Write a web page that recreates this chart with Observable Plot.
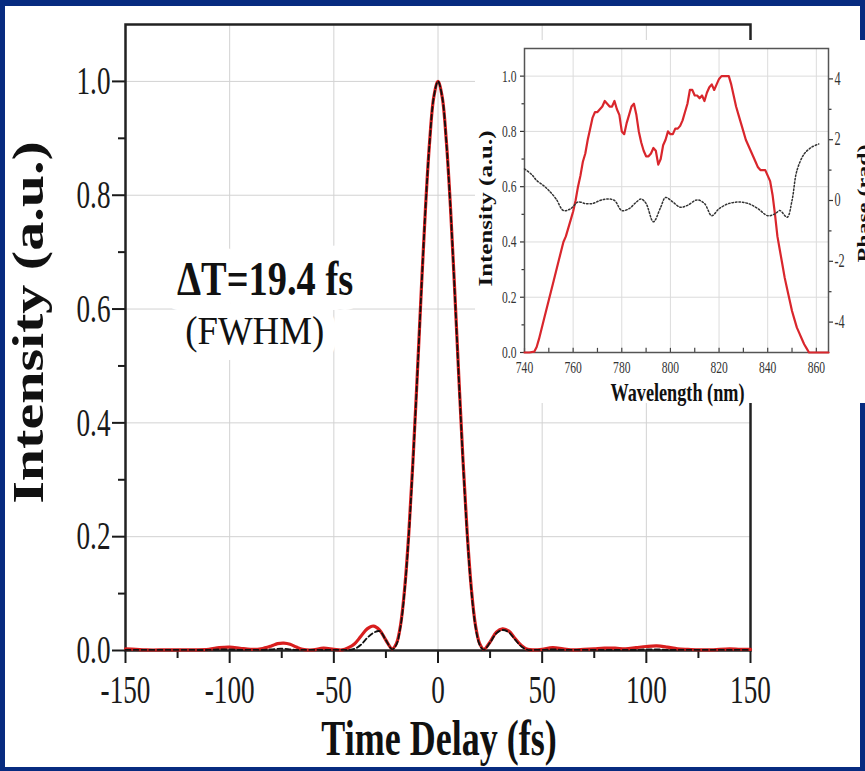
<!DOCTYPE html>
<html><head><meta charset="utf-8">
<script src="https://cdn.jsdelivr.net/npm/d3@7"></script>
<script src="https://cdn.jsdelivr.net/npm/@observablehq/plot@0.6"></script>
<style>
html,body{margin:0;padding:0;background:#072b80;}
#stage{position:relative;width:865px;height:771px;overflow:hidden;background:#072b80;}
#panel{position:absolute;left:5px;top:6px;width:855px;height:761px;background:#fff;}
#main{position:absolute;left:0;top:0;width:865px;height:771px;}
#inset{position:absolute;left:475px;top:40px;width:390px;height:363px;background:#fff;}
#inset svg{position:absolute;left:0;top:0;}
.edge{position:absolute;background:#072b80;}
</style></head><body>
<div id="stage">
  <div id="panel"></div>
  <div id="main"></div>
  <div class="edge" style="left:0;top:0;width:865px;height:6px"></div>
  <div class="edge" style="left:0;top:0;width:5px;height:771px"></div>
  <div class="edge" style="left:860px;top:0;width:5px;height:771px"></div>
  <div class="edge" style="left:0;top:767px;width:865px;height:4px"></div>
  <div id="inset"></div>
</div>
<script>
// ---------- main chart data ----------
const mainTime = [-150,-145,-140,-130,-120,-110,-105,-100,-95,-90,-85,-80,-77,-74,-71,-68,-65,-60,-55,-50,-46,-43,-40,-37,-34,-31,-28,-25,-22,-20,-18,-16,-14,-12,-10,-8,-6,-4,-2,0,2,4,6,8,10,12,14,16,18,20,22,25,28,31,34,37,40,43,46,50,55,60,65,70,75,80,85,90,95,100,105,110,115,120,130,140,145,150];
const mainMeasured = [0.003,0.002,0.001,0.001,0.001,0.002,0.005,0.006,0.004,0.002,0.003,0.008,0.012,0.013,0.011,0.006,0.002,0.001,0.004,0.002,0.001,0.005,0.012,0.025,0.038,0.043,0.036,0.018,0.003,0.012,0.044,0.109,0.207,0.334,0.48,0.634,0.778,0.895,0.973,1.0,0.973,0.895,0.778,0.634,0.48,0.334,0.207,0.109,0.044,0.012,0.002,0.015,0.032,0.038,0.034,0.021,0.009,0.002,0.001,0.002,0.005,0.003,0.001,0.002,0.003,0.004,0.004,0.003,0.005,0.007,0.008,0.006,0.003,0.002,0.001,0.003,0.002,0.002];
const mainTransformLimited = [0.001,0.001,0.001,0.001,0.001,0.001,0.002,0.002,0.001,0.001,0.001,0.002,0.003,0.003,0.002,0.001,0.001,0.001,0.001,0.001,0.001,0.001,0.003,0.01,0.022,0.031,0.034,0.018,0.002,0.01,0.042,0.106,0.204,0.332,0.478,0.632,0.777,0.894,0.973,1.0,0.973,0.894,0.777,0.632,0.478,0.332,0.204,0.106,0.042,0.01,0.001,0.014,0.03,0.036,0.032,0.019,0.007,0.001,0.001,0.001,0.002,0.001,0.001,0.001,0.001,0.001,0.001,0.001,0.001,0.002,0.002,0.001,0.001,0.001,0.001,0.001,0.001,0.001];
const mainXTicks = [-150,-100,-50,0,50,100,150];
const mainXMinor = [-125,-75,-25,25,75,125];
const mainXGrid = [-100,-50,0,50,100];
const mainYTicks = [0,0.2,0.4,0.6,0.8,1.0];
const mainYMinor = [0.1,0.3,0.5,0.7,0.9];
const mainYGrid = [0.2,0.4,0.6,0.8,1.0];
const annotText = ["ΔT=19.4 fs","(FWHM)"];
const annotX = [-83,-88];
const annotY = [0.651,0.561];

// ---------- inset data ----------
const specWl = [740,742,744,745,746,748,750,752,754,756,757,758,759,760,761,762,763,764,765,766,767,768,769,770,771,772,773,774,775,776,777,778,779,780,781,782,783,784,785,786,787,788,789,790,791,792,793,794,795,796,797,798,799,800,801,802,803,804,805,806,807,808,809,810,811,812,813,814,815,816,817,818,819,820,821,822,823,824,825,826,827,828,829,830,831,832,833,834,835,836,837,838,839,840,841,842,843,844,845,846,847,848,849,850,851,852,853,854,855,856,857,860,865];
const specInt = [0,0,0.003,0.02,0.05,0.12,0.19,0.26,0.33,0.4,0.42,0.45,0.48,0.51,0.55,0.6,0.64,0.69,0.72,0.77,0.81,0.85,0.87,0.87,0.88,0.89,0.91,0.9,0.89,0.89,0.91,0.88,0.86,0.8,0.79,0.83,0.86,0.89,0.9,0.86,0.8,0.76,0.73,0.71,0.71,0.72,0.74,0.73,0.68,0.7,0.75,0.77,0.8,0.79,0.79,0.81,0.81,0.82,0.84,0.87,0.9,0.95,0.95,0.93,0.93,0.92,0.93,0.91,0.94,0.96,0.97,0.95,0.97,0.99,1.0,1.0,1.0,1.0,0.97,0.93,0.89,0.86,0.83,0.8,0.77,0.75,0.73,0.71,0.69,0.67,0.66,0.66,0.66,0.64,0.62,0.57,0.5,0.42,0.37,0.32,0.27,0.23,0.19,0.15,0.12,0.09,0.07,0.05,0.03,0.015,0,0,0];
const phaseWl = [740,743,745,748,750,753,756,759,762,765,768,771,774,777,780,783,786,788,790,793,796,798,801,804,807,811,814,817,820,824,828,832,836,840,843,845,848,850,852,855,858,861];
const phaseVal = [1.04,0.85,0.66,0.48,0.33,0.05,-0.33,-0.27,-0.05,-0.1,-0.1,0,0.05,0,-0.33,-0.27,-0.05,0.05,-0.1,-0.7,-0.22,0.1,-0.05,-0.22,-0.16,0.02,-0.1,-0.5,-0.27,-0.1,-0.05,-0.1,-0.27,-0.5,-0.44,-0.33,-0.55,0,0.98,1.53,1.75,1.86];
const insetXTicks = [740,760,780,800,820,840,860];
const insetXMinor = [750,770,790,810,830,850];
const insetXGrid = [760,780,800,820,840,860];
const insetYTicks = [0,0.2,0.4,0.6,0.8,1.0];
const insetYMinor = [0.1,0.3,0.5,0.7,0.9];
const insetYGrid = [0.2,0.4,0.6,0.8,1.0];
const phaseTicks = [-4,-2,0,2,4];
const phaseMinor = [-3,-1,1,3];

const FONT = "'Liberation Serif','Times New Roman',serif";

function condense(svg, opts) {
  svg.querySelectorAll("text").forEach(t => {
    const s = t.textContent.trim();
    if (!s) return;
    const tr = t.getAttribute("transform") || "";
    if (tr.includes("rotate")) {
      t.setAttribute("transform", tr + " scale(1," + opts.rotated + ")");
      return;
    }
    let r = opts.map && opts.map[s];
    if (r == null) {
      const g = t.closest("g[aria-label]");
      const lab = g ? g.getAttribute("aria-label") : "";
      r = lab.includes("tick label") ? opts.tick : 1;
    }
    if (r !== 1) {
      const L = t.getComputedTextLength();
      t.setAttribute("textLength", (L * r).toFixed(2));
      t.setAttribute("lengthAdjust", "spacingAndGlyphs");
    }
  });
}

// ---------- main plot ----------
const mainPlot = Plot.plot({
  width: 865, height: 771,
  marginTop: 24, marginRight: 115, marginBottom: 121, marginLeft: 125,
  style: {fontFamily: FONT, background: "transparent", color: "#1a1a1a", overflow: "visible"},
  x: {domain: [-150, 150], label: null},
  y: {domain: [0, 1.1], label: null},
  marks: [
    Plot.gridX(mainXGrid, {stroke: "#d2d2d2", strokeOpacity: 1, strokeWidth: 1}),
    Plot.gridY(mainYGrid, {stroke: "#d2d2d2", strokeOpacity: 1, strokeWidth: 1}),
    Plot.axisX(mainXTicks, {tickSize: 13, tickPadding: 11, fontSize: 40, strokeWidth: 2, tickFormat: d => String(d)}),
    Plot.axisX(mainXMinor, {tickSize: 8, strokeWidth: 2, tickFormat: () => ""}),
    Plot.axisY(mainYTicks, {tickSize: 13, tickPadding: 2, fontSize: 40, strokeWidth: 2, tickFormat: d => d.toFixed(1)}),
    Plot.axisY(mainYMinor, {tickSize: 7, strokeWidth: 2, tickFormat: () => ""}),
    Plot.frame({stroke: "#222", strokeWidth: 2.5}),
    Plot.line(mainTime, {x: mainTime, y: mainMeasured, stroke: "#d81e1e", strokeWidth: 3.2, curve: "catmull-rom"}),
    Plot.line(mainTime, {x: mainTime, y: mainTransformLimited, stroke: "#111", strokeWidth: 1.8, strokeDasharray: "5,3", curve: "catmull-rom"}),
    Plot.text([annotText[0]], {x: [annotX[0]], y: [annotY[0]], text: d => d, fontSize: 48, fontWeight: "bold", fill: "#111", stroke: "white", strokeWidth: 30, paintOrder: "stroke", textAnchor: "middle", lineAnchor: "middle"}),
    Plot.text([annotText[1]], {x: [annotX[1]], y: [annotY[1]], text: d => d, fontSize: 40, fill: "#111", stroke: "white", strokeWidth: 30, paintOrder: "stroke", textAnchor: "middle", lineAnchor: "middle"}),
    Plot.text(["Intensity (a.u.)"], {text: d => d, frameAnchor: "left", rotate: -90, dx: -96, dy: -15, fontSize: 58, fontWeight: "bold", textAnchor: "middle", lineAnchor: "middle", fill: "#111"}),
    Plot.text(["Time Delay (fs)"], {text: d => d, frameAnchor: "bottom", dx: 1, dy: 88, fontSize: 50, fontWeight: "bold", textAnchor: "middle", lineAnchor: "middle", fill: "#111"})
  ]
});
document.getElementById("main").appendChild(mainPlot);
condense(mainPlot, {tick: 0.68, rotated: 0.75, map: {"ΔT=19.4 fs": 0.8, "(FWHM)": 0.92, "Time Delay (fs)": 0.72}});

// ---------- inset: intensity ----------
const insetDims = {width: 390, height: 363, marginLeft: 49, marginRight: 37, marginTop: 8, marginBottom: 51};
const insetA = Plot.plot({
  ...insetDims,
  style: {fontFamily: FONT, background: "transparent", color: "#333", overflow: "visible"},
  x: {domain: [740, 865], label: null},
  y: {domain: [0, 1.1], label: null},
  marks: [
    Plot.gridX(insetXGrid, {stroke: "#dcdcdc", strokeOpacity: 1}),
    Plot.gridY(insetYGrid, {stroke: "#dcdcdc", strokeOpacity: 1}),
    Plot.axisX(insetXTicks, {tickSize: 0, tickPadding: 8, fontSize: 17, tickFormat: d => String(d)}),
    Plot.ruleX(insetXTicks.concat(insetXMinor), {y1: 0, y2: 0.015, stroke: "#444", strokeWidth: 1.2}),
    Plot.axisY(insetYTicks, {tickSize: 4, tickPadding: 4, fontSize: 17, strokeWidth: 1.2, tickFormat: d => d.toFixed(1)}),
    Plot.axisY(insetYMinor, {tickSize: 2.5, strokeWidth: 1.2, tickFormat: () => ""}),
    Plot.frame({stroke: "#555", strokeWidth: 1.5}),
    Plot.line(specWl, {x: specWl, y: specInt, stroke: "#d9262c", strokeWidth: 2.2}),
    Plot.text(["Wavelength (nm)"], {text: d => d, frameAnchor: "bottom", dx: 1, dy: 40, fontSize: 26, fontWeight: "bold", textAnchor: "middle", lineAnchor: "middle", fill: "#111"}),
    Plot.text(["Intensity (a.u.)"], {text: d => d, frameAnchor: "left", rotate: -90, dx: -38, dy: 8, fontSize: 25, fontWeight: "bold", textAnchor: "middle", lineAnchor: "middle", fill: "#111"})
  ]
});
document.getElementById("inset").appendChild(insetA);
condense(insetA, {tick: 0.68, rotated: 0.72, map: {"Wavelength (nm)": 0.7}});

// ---------- inset: phase ----------
const insetB = Plot.plot({
  ...insetDims,
  style: {fontFamily: FONT, background: "transparent", color: "#333", overflow: "visible"},
  x: {domain: [740, 865], label: null, axis: null},
  y: {domain: [-5, 5], label: null},
  marks: [
    Plot.axisY(phaseTicks, {anchor: "right", tickSize: 4, tickPadding: 2, fontSize: 18, strokeWidth: 1.2, tickFormat: d => String(d)}),
    Plot.axisY(phaseMinor, {anchor: "right", tickSize: 2.5, strokeWidth: 1.2, tickFormat: () => ""}),
    Plot.line(phaseWl, {x: phaseWl, y: phaseVal, stroke: "#333", strokeWidth: 1.5, strokeDasharray: "1.5,2", curve: "catmull-rom"}),
    Plot.text(["Phase (rad)"], {text: d => d, frameAnchor: "right", rotate: -90, dx: 35, dy: 3, fontSize: 24, fontWeight: "bold", textAnchor: "middle", lineAnchor: "middle", fill: "#111"})
  ]
});
document.getElementById("inset").appendChild(insetB);
condense(insetB, {tick: 0.68, rotated: 0.72, map: {}});
</script>
</body></html>
